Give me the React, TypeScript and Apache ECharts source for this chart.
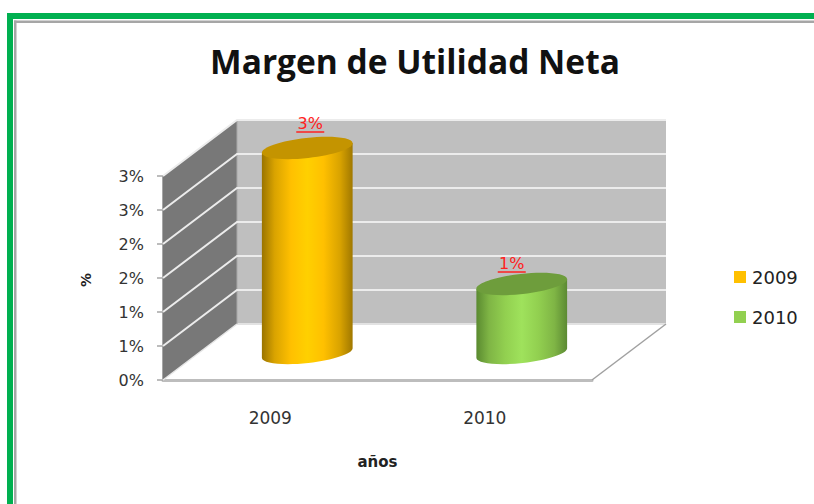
import React, { useEffect, useRef } from "react";
import * as echarts from "echarts";

const categories = ["2009", "2010"];
const marginValues = [3, 1];
const tickValues = [0.5, 1, 1.5, 2, 2.5, 3];
const seriesColors = ["#ffc000", "#92d050"];
const titleText = "Margen de Utilidad Neta";
const xAxisName = "años";
const yAxisName = "%";

const DEPTH_X = 74;
const DEPTH_Y = -56;
const FONT = "'DejaVu Sans', sans-serif";

const pct = (v: number) => `${Math.round(v)}%`;

const gradients = [
  ["#9a7400", "#d9a300", "#ffc000", "#ffd000", "#ffc000", "#d9a300", "#a07800"],
  ["#5a8a30", "#7fb545", "#92d050", "#9fe25c", "#92d050", "#7fb545", "#5c8a33"],
];
const topColors = ["#c49400", "#6e9d3c"];
const labelShift = [
  [3, -25],
  [-10, -21],
];

function renderWalls(params: any, api: any) {
  const cs = params.coordSys;
  const x0 = cs.x;
  const x1 = cs.x + cs.width;
  const yBase = api.coord([0, 0])[1];
  const yTop = api.coord([0, 3])[1];
  const poly = (points: number[][], fill: string) => ({
    type: "polygon",
    shape: { points },
    style: { fill },
    silent: true,
  });
  const seg = (a: number[], b: number[], stroke: string, lineWidth: number) => ({
    type: "line",
    shape: { x1: a[0], y1: a[1], x2: b[0], y2: b[1] },
    style: { stroke, lineWidth },
    silent: true,
  });
  return {
    type: "group",
    children: [
      poly(
        [
          [x0, yBase],
          [x0 + DEPTH_X, yBase + DEPTH_Y],
          [x0 + DEPTH_X, yTop + DEPTH_Y],
          [x0, yTop],
        ],
        "#787878"
      ),
      poly(
        [
          [x0 + DEPTH_X, yBase + DEPTH_Y],
          [x1 + DEPTH_X, yBase + DEPTH_Y],
          [x1 + DEPTH_X, yTop + DEPTH_Y],
          [x0 + DEPTH_X, yTop + DEPTH_Y],
        ],
        "#bfbfbf"
      ),
      seg([x0 + DEPTH_X, yBase + DEPTH_Y], [x1 + DEPTH_X, yBase + DEPTH_Y], "#e2e2e2", 2),
      seg([x0 + DEPTH_X, yTop + DEPTH_Y], [x0 + DEPTH_X, yBase + DEPTH_Y], "#a8a8a8", 1),
      seg([x1, yBase], [x1 + DEPTH_X, yBase + DEPTH_Y], "#a0a0a0", 1.5),
      seg([x0, yBase], [x0 + DEPTH_X, yBase + DEPTH_Y], "#e6e6e6", 1.5),
    ],
  };
}

function renderGrid(params: any, api: any) {
  const cs = params.coordSys;
  const x0 = cs.x;
  const x1 = cs.x + cs.width;
  const y = api.coord([0, api.value(0)])[1];
  return {
    type: "polyline",
    silent: true,
    shape: {
      points: [
        [x0, y],
        [x0 + DEPTH_X, y + DEPTH_Y],
        [x1 + DEPTH_X, y + DEPTH_Y],
      ],
    },
    style: { stroke: "#ececec", lineWidth: 2, fill: "none" },
  };
}

const KAPPA = 0.5523;

// Cubic quarter of a tilted ellipse centred on (cx, cy), from c + e1 to c + e2.
function quarter(cx: number, cy: number, e1: number[], e2: number[]) {
  const c1 = [cx + e1[0] + KAPPA * e2[0], cy + e1[1] + KAPPA * e2[1]];
  const c2 = [cx + e2[0] + KAPPA * e1[0], cy + e2[1] + KAPPA * e1[1]];
  return `C ${c1[0]} ${c1[1]} ${c2[0]} ${c2[1]} ${cx + e2[0]} ${cy + e2[1]} `;
}

function makeCylinder(idx: number) {
  return (params: any, api: any) => {
    const catIndex = api.value(0);
    const v = api.value(1);
    const base = api.coord([catIndex, 0]);
    const top = api.coord([catIndex, v]);
    const cx = base[0] + DEPTH_X / 2;
    const by = base[1] + DEPTH_Y / 2 + 1;
    const ty = top[1] + DEPTH_Y / 2;
    const a = api.size([1, 0])[0] * 0.2115;
    const dy = 5;
    const b = 10;
    const R = Math.hypot(a, dy);
    const U = [a, -dy];
    const V = [(b * dy) / R, (b * a) / R];
    const mU = [-U[0], -U[1]];
    const mV = [-V[0], -V[1]];
    const body =
      `M ${cx - a} ${ty + dy} L ${cx - a} ${by + dy} ` +
      quarter(cx, by, mU, V) +
      quarter(cx, by, V, U) +
      `L ${cx + a} ${ty - dy} Z`;
    const cap =
      `M ${cx - a} ${ty + dy} ` +
      quarter(cx, ty, mU, mV) +
      quarter(cx, ty, mV, U) +
      quarter(cx, ty, U, V) +
      quarter(cx, ty, V, mU) +
      "Z";
    const stops = [0, 0.14, 0.32, 0.5, 0.68, 0.86, 1];
    const lx = cx + labelShift[idx][0];
    const ly = ty + labelShift[idx][1];
    return {
      type: "group",
      children: [
        {
          type: "path",
          shape: { pathData: body },
          style: {
            fill: {
              type: "linear",
              x: 0,
              y: 0,
              x2: 1,
              y2: 0,
              colorStops: gradients[idx].map((color, i) => ({ offset: stops[i], color })),
            },
          },
        },
        {
          type: "path",
          shape: { pathData: cap },
          style: { fill: topColors[idx] },
        },
        {
          type: "text",
          style: {
            x: lx,
            y: ly,
            text: pct(v),
            fill: "#ff2020",
            font: `16px ${FONT}`,
            align: "center",
            verticalAlign: "middle",
          },
        },
        {
          type: "line",
          shape: { x1: lx - 14, y1: ly + 9, x2: lx + 14, y2: ly + 9 },
          style: { stroke: "#ff2020", lineWidth: 1.5 },
        },
      ],
    };
  };
}

export default function App() {
  const ref = useRef<HTMLDivElement>(null);
  useEffect(() => {
    const chart = echarts.init(ref.current!, undefined, { renderer: "svg" });
    chart.setOption({
      animation: false,
      backgroundColor: "#ffffff",
      title: {
        text: titleText,
        left: 410,
        top: 39,
        textAlign: "center",
        textStyle: {
          fontFamily: "'Open Sans', sans-serif",
          fontWeight: "bold",
          fontSize: 33.5,
          color: "#111111",
        },
      },
      legend: {
        orient: "vertical",
        left: 729,
        top: 263,
        itemWidth: 12,
        itemHeight: 12,
        itemGap: 22,
        icon: "rect",
        data: categories,
        textStyle: { fontFamily: FONT, fontSize: 18, color: "#222222", padding: [0, 0, 0, 1] },
      },
      grid: { left: 163, top: 176, width: 429, height: 204 },
      xAxis: {
        type: "category",
        data: categories,
        name: xAxisName,
        nameLocation: "middle",
        nameGap: 74,
        nameTextStyle: { fontFamily: FONT, fontSize: 15, fontWeight: "bold", color: "#222222" },
        axisLine: { lineStyle: { color: "#bdbdbd", width: 3 } },
        axisTick: { show: false },
        axisLabel: { margin: 29, fontFamily: FONT, fontSize: 17, color: "#333333" },
      },
      yAxis: {
        type: "value",
        min: 0,
        max: 3,
        interval: 0.5,
        name: yAxisName,
        nameLocation: "middle",
        nameGap: 70,
        nameRotate: 90,
        nameTextStyle: { fontFamily: FONT, fontSize: 14, fontWeight: "bold", color: "#222222", padding: [0, 4, 0, 0] },
        axisLine: { show: true, lineStyle: { color: "#a6a6a6", width: 2 } },
        axisTick: { show: true, length: 6, lineStyle: { color: "#a6a6a6", width: 1.5 } },
        axisLabel: {
          margin: 19,
          fontFamily: FONT,
          fontSize: 16,
          color: "#333333",
          padding: [2, 0, 0, 0],
          formatter: (v: number) => pct(v),
        },
        splitLine: { show: false },
      },
      graphic: [
        { type: "rect", shape: { x: 7, y: 13, width: 807, height: 6 }, style: { fill: "#00b050" }, silent: true },
        { type: "rect", shape: { x: 7, y: 13, width: 6, height: 491 }, style: { fill: "#00b050" }, silent: true },
        { type: "rect", shape: { x: 14, y: 20.5, width: 800, height: 2.5 }, style: { fill: "#a6a6a6" }, silent: true },
        { type: "rect", shape: { x: 14, y: 20.5, width: 2.5, height: 483.5 }, style: { fill: "#a6a6a6" }, silent: true },
      ],
      series: [
        {
          name: "walls",
          type: "custom",
          z: 1,
          silent: true,
          data: [[0, 0]],
          encode: { x: 0, y: 1 },
          renderItem: renderWalls,
        },
        {
          name: "grid",
          type: "custom",
          z: 2,
          silent: true,
          data: tickValues.map((t) => [t]),
          encode: { y: 0 },
          renderItem: renderGrid,
        },
        ...categories.map((c, i) => ({
          name: c,
          type: "custom",
          z: 3,
          silent: true,
          itemStyle: { color: seriesColors[i] },
          data: [[i, marginValues[i]]],
          encode: { x: 0, y: 1 },
          renderItem: makeCylinder(i),
        })),
      ],
    });
    return () => chart.dispose();
  }, []);
  return (
    <div
      ref={ref}
      style={{ position: "absolute", left: 0, top: 0, width: 814, height: 504 }}
    />
  );
}
